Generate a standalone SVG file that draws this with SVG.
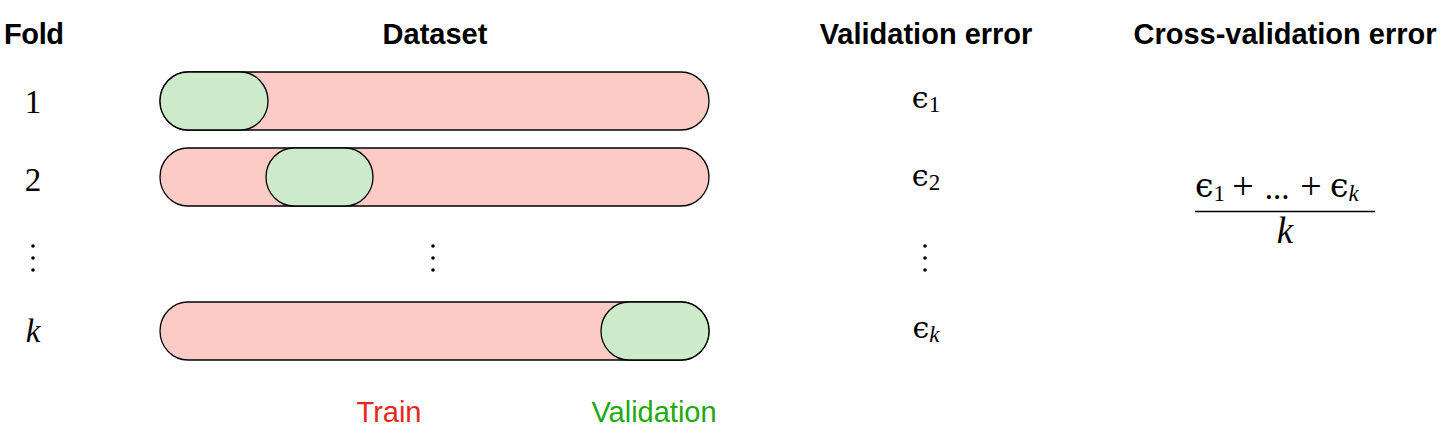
<svg xmlns="http://www.w3.org/2000/svg" width="1447" height="442" viewBox="0 0 1447 442">
<style>
.hdr{font-family:"Liberation Sans",Arial,sans-serif;font-weight:bold;font-size:29px;fill:#000}
.num{font-family:"Liberation Serif","DejaVu Serif",serif;font-size:33px;fill:#000}
.it{font-family:"Liberation Serif","DejaVu Serif",serif;font-style:italic;font-size:33px;fill:#000}
.eps{font-family:"DejaVu Serif","Liberation Serif",serif;font-size:30px;fill:#000}
.sub{font-family:"Liberation Serif","DejaVu Serif",serif;font-size:23px;fill:#000}
.subit{font-family:"Liberation Serif","DejaVu Serif",serif;font-style:italic;font-size:23px;fill:#000}
.train{fill:#fccbc6;stroke:#000;stroke-width:1.3}
.val{fill:#cdebca;stroke:#000;stroke-width:1.3}
.lbl{font-family:"Liberation Sans",Arial,sans-serif;font-size:29px}
.big{font-size:38px}
.bigeps{font-size:33px}
.bigk{font-size:37px}
</style>
<rect width="1447" height="442" fill="#fff"/>
<g id="headers">
<text class="hdr" x="4" y="44" textLength="60">Fold</text>
<text class="hdr" x="435" y="44" text-anchor="middle">Dataset</text>
<text class="hdr" x="926" y="44" text-anchor="middle">Validation error</text>
<text class="hdr" x="1285" y="44" text-anchor="middle">Cross-validation error</text>
</g>
<g id="fold1">
<text class="num" x="33" y="113" text-anchor="middle">1</text>
<rect class="train" x="160" y="72" width="549" height="58" rx="28" ry="29"/>
<rect class="val" x="160" y="72" width="108" height="58" rx="28" ry="29"/>
<text x="926" y="108" text-anchor="middle"><tspan class="eps">ϵ</tspan><tspan class="sub" dy="4">1</tspan></text>
</g>
<g id="fold2">
<text class="num" x="33" y="191" text-anchor="middle">2</text>
<rect class="train" x="160" y="148" width="549" height="58" rx="28" ry="29"/>
<rect class="val" x="266" y="148" width="107" height="58" rx="28" ry="29"/>
<text x="926" y="186" text-anchor="middle"><tspan class="eps">ϵ</tspan><tspan class="sub" dy="4">2</tspan></text>
</g>
<g id="dots" fill="#000">
<circle cx="33" cy="246" r="1.8"/><circle cx="33" cy="258" r="1.8"/><circle cx="33" cy="270" r="1.8"/>
<circle cx="433" cy="246" r="1.8"/><circle cx="433" cy="258" r="1.8"/><circle cx="433" cy="270" r="1.8"/>
<circle cx="925" cy="246" r="1.8"/><circle cx="925" cy="258" r="1.8"/><circle cx="925" cy="270" r="1.8"/>
</g>
<g id="foldk">
<text class="it" x="33" y="342" text-anchor="middle">k</text>
<rect class="train" x="160" y="302" width="549" height="58" rx="28" ry="29"/>
<rect class="val" x="601" y="302" width="108" height="58" rx="28" ry="29"/>
<text x="926" y="338" text-anchor="middle"><tspan class="eps">ϵ</tspan><tspan class="subit" dy="4">k</tspan></text>
</g>
<g id="cv">
<text x="1195" y="197"><tspan class="eps bigeps">ϵ</tspan><tspan class="sub" dy="4">1</tspan></text>
<text class="num big" x="1243" y="199" text-anchor="middle">+</text>
<text class="num" x="1277" y="199" text-anchor="middle">...</text>
<text class="num big" x="1311" y="199" text-anchor="middle">+</text>
<text x="1330" y="197"><tspan class="eps bigeps">ϵ</tspan><tspan class="subit" dy="4">k</tspan></text>
<line x1="1195" y1="211.5" x2="1375" y2="211.5" stroke="#000" stroke-width="1.4"/>
<text class="it bigk" x="1285" y="243" text-anchor="middle">k</text>
</g>
<g id="legend">
<text class="lbl" x="389" y="422" text-anchor="middle" fill="#e8271c">Train</text>
<text class="lbl" x="654" y="422" text-anchor="middle" fill="#20aa10">Validation</text>
</g>
</svg>
